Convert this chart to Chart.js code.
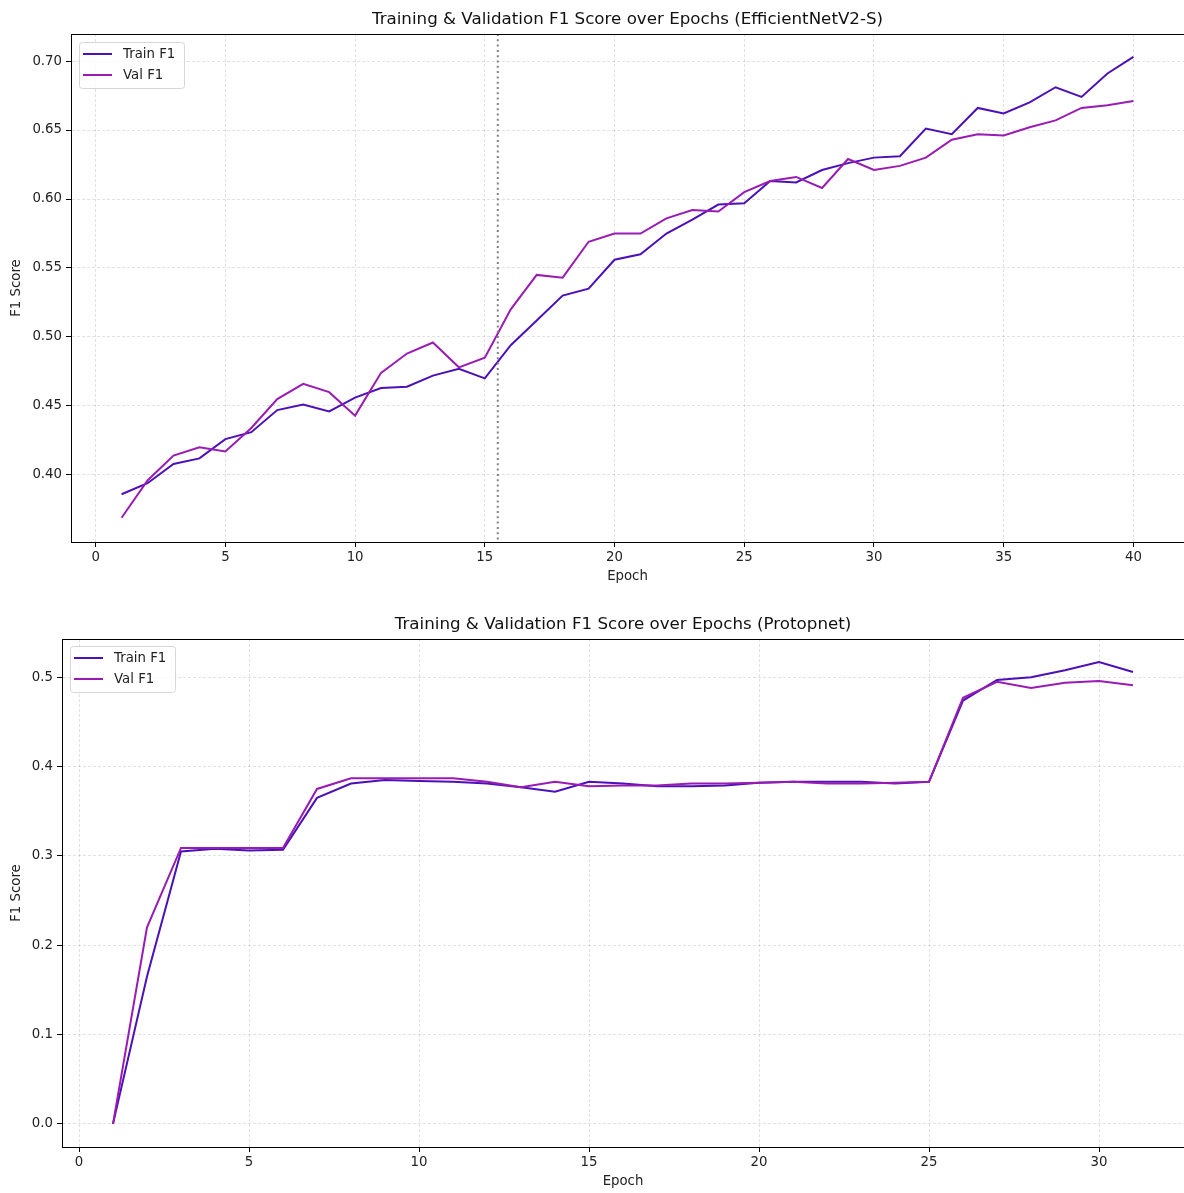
<!DOCTYPE html>
<html>
<head>
<meta charset="utf-8">
<script src="https://cdn.jsdelivr.net/npm/chart.js@4.4.1/dist/chart.umd.min.js"></script>
<style>
  body { margin: 0; background: #fff; }
  .wrap { position: relative; width: 1184px; height: 1193px; }
  canvas { position: absolute; left: 0; }
</style>
</head>
<body>
<div class="wrap">
  <canvas id="effChart" width="1184" height="600" style="top:0"></canvas>
  <canvas id="protoChart" width="1184" height="593" style="top:600px"></canvas>
</div>
<script>
// --- Data: EfficientNetV2-S ---
const effEpochs = [1, 2, 3, 4, 5, 6, 7, 8, 9, 10, 11, 12, 13, 14, 15, 16, 17, 18, 19, 20,
                   21, 22, 23, 24, 25, 26, 27, 28, 29, 30, 31, 32, 33, 34, 35, 36, 37, 38, 39, 40];
const effTrain = [0.386, 0.394, 0.408, 0.412, 0.426, 0.431, 0.447, 0.451, 0.446, 0.456,
                  0.463, 0.464, 0.472, 0.477, 0.470, 0.494, 0.512, 0.530, 0.535, 0.556,
                  0.560, 0.575, 0.585, 0.596, 0.597, 0.613, 0.612, 0.621, 0.626, 0.630,
                  0.631, 0.651, 0.647, 0.666, 0.662, 0.670, 0.681, 0.674, 0.691, 0.703];
const effVal = [0.369, 0.396, 0.414, 0.420, 0.417, 0.434, 0.455, 0.466, 0.460, 0.443,
                0.474, 0.488, 0.496, 0.478, 0.485, 0.520, 0.545, 0.543, 0.569, 0.575,
                0.575, 0.586, 0.592, 0.591, 0.605, 0.613, 0.616, 0.608, 0.629, 0.621,
                0.624, 0.630, 0.643, 0.647, 0.646, 0.652, 0.657, 0.666, 0.668, 0.671];
const effMarkerEpoch = 15.5;
const effXTicks = [0, 5, 10, 15, 20, 25, 30, 35, 40];
const effYTicks = [0.40, 0.45, 0.50, 0.55, 0.60, 0.65, 0.70];

// --- Data: Protopnet ---
const protoEpochs = [1, 2, 3, 4, 5, 6, 7, 8, 9, 10, 11, 12, 13, 14, 15, 16,
                     17, 18, 19, 20, 21, 22, 23, 24, 25, 26, 27, 28, 29, 30, 31];
const protoTrain = [0.000, 0.165, 0.305, 0.308, 0.306, 0.307, 0.365, 0.381, 0.385, 0.384,
                    0.383, 0.381, 0.377, 0.372, 0.383, 0.381, 0.378, 0.378, 0.379, 0.382,
                    0.383, 0.383, 0.383, 0.381, 0.383, 0.474, 0.497, 0.500, 0.508, 0.517, 0.506];
const protoVal = [0.000, 0.220, 0.309, 0.309, 0.309, 0.309, 0.375, 0.387, 0.387, 0.387,
                  0.387, 0.383, 0.377, 0.383, 0.378, 0.379, 0.379, 0.381, 0.381, 0.382,
                  0.383, 0.381, 0.381, 0.382, 0.383, 0.477, 0.495, 0.488, 0.494, 0.496, 0.491];
const protoXTicks = [0, 5, 10, 15, 20, 25, 30];
const protoYTicks = [0.0, 0.1, 0.2, 0.3, 0.4, 0.5];

const trainColor = '#4c10b8';
const valColor = '#9a1bb4';
const FONT = "'DejaVu Sans', sans-serif";

Chart.defaults.font.family = FONT;
Chart.defaults.color = '#000';

// title over the axes, spines, dotted marker and legend box inside the plot (matplotlib look)
const frameAndLegend = {
    id: 'frameAndLegend',
    afterDatasetsDraw(chart, args, opts) {
        const { ctx, chartArea: a } = chart;
        ctx.save();

        ctx.font = '16.7px ' + FONT;
        ctx.fillStyle = '#111';
        ctx.textAlign = 'center';
        ctx.textBaseline = 'middle';
        ctx.fillText(opts.title, (a.left + a.right) / 2, a.top - 14);
        ctx.textAlign = 'left';

        if (opts.vline !== undefined) {
            const x = chart.scales.x.getPixelForValue(opts.vline);
            ctx.strokeStyle = '#808080';
            ctx.lineWidth = 2;
            ctx.setLineDash([2, 3.3]);
            ctx.beginPath();
            ctx.moveTo(x, a.top);
            ctx.lineTo(x, a.bottom);
            ctx.stroke();
            ctx.setLineDash([]);
        }

        ctx.strokeStyle = '#000';
        ctx.lineWidth = 1;
        ctx.strokeRect(a.left + 0.5, a.top + 0.5, a.right - a.left, a.bottom - a.top);

        // legend
        const bx = a.left + 8, by = a.top + 8 + (opts.dy || 0), bw = 105, bh = 46;
        ctx.fillStyle = 'rgba(255,255,255,0.8)';
        ctx.strokeStyle = '#d6d6d6';
        ctx.beginPath();
        ctx.roundRect(bx + 0.5, by + 0.5, bw, bh, 3);
        ctx.fill();
        ctx.stroke();
        ctx.font = '13.3px ' + FONT;
        chart.data.datasets.forEach((ds, i) => {
            const y = by + 12 + i * 21;
            ctx.strokeStyle = ds.borderColor;
            ctx.lineWidth = 2;
            ctx.beginPath();
            ctx.moveTo(bx + 4, y);
            ctx.lineTo(bx + 33, y);
            ctx.stroke();
            ctx.fillStyle = '#222';
            ctx.fillText(ds.label, bx + 44, y + 1);
        });
        ctx.restore();
    }
};

function buildChart(id, cfg) {
    const series = (xs, ys) => xs.map((x, i) => ({ x, y: ys[i] }));
    const gridOpts = {
        color: 'rgba(0,0,0,0.15)',
        lineWidth: 0.8,
        tickColor: '#000',
        tickLength: 5,
        tickWidth: 1,
        tickBorderDash: []
    };
    const borderOpts = { display: true, color: '#000', width: 1, dash: [3, 2] };

    return new Chart(document.getElementById(id), {
        type: 'line',
        data: {
            datasets: [
                { label: 'Train F1', data: series(cfg.epochs, cfg.train), borderColor: trainColor,
                  borderWidth: 2, pointRadius: 0, tension: 0, order: 1 },
                { label: 'Val F1', data: series(cfg.epochs, cfg.val), borderColor: valColor,
                  borderWidth: 2, pointRadius: 0, tension: 0, order: 0 }
            ]
        },
        options: {
            responsive: false,
            devicePixelRatio: 1,
            animation: false,
            layout: { padding: { top: cfg.plotTop, left: 0, right: 0, bottom: 0 } },
            scales: {
                x: {
                    type: 'linear',
                    min: cfg.xMin, max: cfg.xMax,
                    grid: gridOpts,
                    border: borderOpts,
                    afterBuildTicks: s => { s.ticks = cfg.xTicks.map(v => ({ value: v })); },
                    afterFit: s => { s.height = cfg.xAxisH; },
                    ticks: { padding: 3, font: { size: 13.3 }, color: '#222', maxRotation: 0 },
                    title: { display: true, text: 'Epoch', font: { size: 13.3 }, color: '#222',
                             padding: { top: 0, bottom: cfg.xTitlePad } }
                },
                y: {
                    type: 'linear',
                    min: cfg.yMin, max: cfg.yMax,
                    grid: gridOpts,
                    border: borderOpts,
                    afterBuildTicks: s => { s.ticks = cfg.yTicks.map(v => ({ value: v })); },
                    afterFit: s => { s.width = cfg.yAxisW; },
                    ticks: { padding: 4, font: { size: 13.3 }, color: '#222',
                             callback: v => v.toFixed(cfg.decimals) },
                    title: { display: true, text: 'F1 Score', font: { size: 13.3 }, color: '#222',
                             padding: { top: 9, bottom: 0 } }
                }
            },
            plugins: {
                legend: { display: false },
                tooltip: { enabled: false },
                title: { display: false },
                frameAndLegend: { title: cfg.title, vline: cfg.vline, dy: cfg.legendDy }
            }
        },
        plugins: [frameAndLegend]
    });
}

buildChart('effChart', {
    title: 'Training & Validation F1 Score over Epochs (EfficientNetV2-S)',
    epochs: effEpochs, train: effTrain, val: effVal,
    xTicks: effXTicks, yTicks: effYTicks, decimals: 2,
    xMin: -0.95, xMax: 41.95, yMin: 0.3514, yMax: 0.7196,
    plotTop: 34, yAxisW: 71, xAxisH: 58, xTitlePad: 15,
    vline: effMarkerEpoch, legendDy: 0
});

buildChart('protoChart', {
    title: 'Training & Validation F1 Score over Epochs (Protopnet)',
    epochs: protoEpochs, train: protoTrain, val: protoVal,
    xTicks: protoXTicks, yTicks: protoYTicks, decimals: 1,
    xMin: -0.5, xMax: 32.5, yMin: -0.0259, yMax: 0.5429,
    plotTop: 39, yAxisW: 62, xAxisH: 46, xTitlePad: 3,
    legendDy: -1
});
</script>
</body>
</html>
